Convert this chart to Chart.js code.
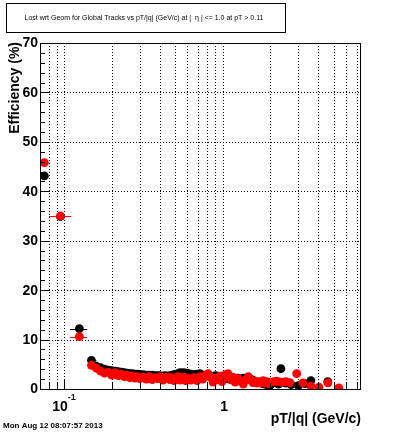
<!DOCTYPE html>
<html>
<head>
<meta charset="utf-8">
<script src="https://cdn.jsdelivr.net/npm/chart.js@4/dist/chart.umd.min.js"></script>
<style>
html,body{margin:0;padding:0;background:#fff;}
canvas{display:block;}
</style>
</head>
<body>
<canvas id="c" width="400" height="433"></canvas>
<script>
// ---- data ----
const lowPt    = [0.0752, 0.095, 0.125, 0.149];
const lowPtLo  = [0.0706, 0.081, 0.109, 0.140];
const lowPtHi  = [0.080, 0.111, 0.140, 0.160];
const lowBlack = [43.1, 34.9, 12.2, 5.8];
const lowRed   = [45.8, 35.0, 10.6, 4.8];

const midPt = [0.16,0.17,0.18,0.19,0.20,0.21,0.22,0.23,0.24,0.25,0.26,0.27,0.28,0.29,0.30,
               0.315,0.33,0.345,0.36,0.375,0.39,0.405,0.42,0.435,0.45,0.465,0.48,0.495,0.51,0.525,0.54,0.555,0.57,0.585,0.60,
               0.63,0.66,0.69,0.72,0.75,0.78,0.81,0.84,0.87,0.90,0.93,0.96,0.99,1.02,1.05,1.08,1.11,1.14,1.17,1.20,
               1.25,1.30,1.35,1.40,1.45,1.50,1.55,1.60,1.65,1.70,1.75,1.80,1.85,1.90,1.95,2.00];
const midBlack = [4.6,4.3,4.0,3.8,3.7,3.6,3.5,3.4,3.3,3.2,3.1,3.1,3.0,3.0,2.9,
                  2.9,2.8,2.8,2.8,2.7,2.7,2.7,2.6,2.7,2.6,2.7,2.8,2.9,3.0,3.1,3.3,3.2,3.3,3.1,3.2,
                  3.0,2.9,3.0,3.1,2.8,2.7,2.6,2.5,2.4,2.7,2.6,2.5,2.6,2.4,2.3,2.1,2.0,2.2,2.3,2.0,
                  2.2,2.0,2.2,2.1,2.3,2.0,1.8,1.5,1.4,1.3,1.2,1.1,1.0,0.9,1.0,0.8];
const midRed   = [4.2,3.6,3.2,3.4,2.8,3.3,2.7,3.0,2.5,2.8,2.3,2.6,2.2,2.5,2.1,
                  2.4,2.0,2.5,1.9,2.3,2.1,2.5,1.8,2.2,2.4,1.9,2.3,1.7,2.2,2.5,1.8,2.1,2.4,1.7,2.2,
                  1.8,2.3,1.7,2.5,2.0,2.8,3.1,2.4,1.4,2.2,1.9,2.6,1.5,2.2,2.9,3.1,2.6,1.8,2.3,1.4,
                  2.1,1.6,1.0,1.9,2.5,1.8,1.3,1.6,1.2,1.5,1.3,1.7,1.2,1.5,1.1,1.4];

const tailBlackPt = [2.12, 2.25, 2.33, 2.5, 2.7, 3.0, 3.3, 3.6, 4.6];
const tailBlack   = [1.3, 1.0, 4.1, 1.2, 0.9, 0.7, 1.1, 1.7, 1.5];
const tailRedPt   = [2.1, 2.2, 2.35, 2.5, 2.65, 2.93, 3.2, 3.6, 4.05, 4.61, 5.4];
const tailRed     = [1.5, 1.6, 1.4, 1.5, 1.3, 3.1, 1.25, 0.57, 0.37, 1.25, 0.24];

const xTicks  = [0.08,0.09,0.1,0.2,0.3,0.4,0.5,0.6,0.7,0.8,0.9,1,2,3,4,5,6,7];
const xMajor  = [0.1, 1];
const yTicks  = [0,10,20,30,40,50,60,70];
const yGrid   = [10,20,30,40,50,60];

const titleText = "Lost wrt Geom for Global Tracks vs pT/|q| (GeV/c) at |  \u03b7 | <= 1.0 at pT > 0.11";
const xTitle = "pT/|q| (GeV/c)";
const yTitle = "Efficiency (%)";
const dateText = "Mon Aug 12 08:07:57 2013";

// ---- build datasets ----
function pts(xs, ys){ return xs.map((x,i)=>({x:x, y:ys[i]})); }
const blackData = pts(lowPt, lowBlack).concat(pts(midPt, midBlack), pts(tailBlackPt, tailBlack));
const redData   = pts(lowPt, lowRed).concat(pts(midPt, midRed), pts(tailRedPt, tailRed));

const FONT = '"Liberation Sans", Arial, Helvetica, sans-serif';

const decor = {
  id: 'decor',
  beforeDatasetsDraw(chart){
    const {ctx, chartArea:a, scales:{x, y}} = chart;
    ctx.save();
    ctx.strokeStyle = '#000';
    ctx.lineWidth = 1;
    ctx.setLineDash([1,2]);
    xTicks.forEach(v=>{
      const px = Math.round(x.getPixelForValue(v)) + 0.5;
      ctx.beginPath(); ctx.moveTo(px, a.top); ctx.lineTo(px, a.bottom); ctx.stroke();
    });
    yGrid.forEach(v=>{
      const py = Math.round(y.getPixelForValue(v)) + 0.5;
      ctx.beginPath(); ctx.moveTo(a.left, py); ctx.lineTo(a.right, py); ctx.stroke();
    });
    ctx.setLineDash([]);
    const drawErr = (vals, color) => {
      ctx.strokeStyle = color; ctx.lineWidth = 1;
      lowPt.forEach((p,i)=>{
        const py = Math.round(y.getPixelForValue(vals[i])) + 0.5;
        ctx.beginPath();
        ctx.moveTo(x.getPixelForValue(lowPtLo[i]), py);
        ctx.lineTo(x.getPixelForValue(lowPtHi[i]), py);
        ctx.stroke();
      });
    };
    drawErr(lowBlack, '#000');
    drawErr(lowRed, '#ff0000');
    ctx.restore();
  },
  afterDatasetsDraw(chart){
    const {ctx, chartArea:a, scales:{x, y}} = chart;
    ctx.save();
    ctx.strokeStyle = '#000';
    ctx.lineWidth = 1;
    ctx.setLineDash([]);
    ctx.strokeRect(Math.round(a.left)+0.5, Math.round(a.top)+0.5,
                   Math.round(a.right-a.left), Math.round(a.bottom-a.top));
    for (let v = 0; v <= 70; v += 2) {
      const py = Math.round(y.getPixelForValue(v)) + 0.5;
      const len = (v % 10 === 0) ? 9 : 5;
      ctx.beginPath(); ctx.moveTo(a.left, py); ctx.lineTo(a.left+len, py); ctx.stroke();
    }
    xTicks.forEach(v=>{
      const px = Math.round(x.getPixelForValue(v)) + 0.5;
      const len = xMajor.includes(v) ? 10 : 6;
      ctx.beginPath(); ctx.moveTo(px, a.bottom); ctx.lineTo(px, a.bottom-len); ctx.stroke();
    });
    ctx.fillStyle = '#000';
    ctx.font = 'bold 14px ' + FONT;
    ctx.textAlign = 'right';
    ctx.textBaseline = 'middle';
    yTicks.forEach(v=>{
      ctx.fillText(String(v), a.left - 2, y.getPixelForValue(v) + 0.5);
    });
    ctx.textBaseline = 'alphabetic';
    const p1 = x.getPixelForValue(0.1);
    ctx.font = 'bold 14px ' + FONT;
    const w10 = ctx.measureText('10').width;
    ctx.font = 'bold 9px ' + FONT;
    const wsup = ctx.measureText('-1').width;
    const start = p1 - (w10 + wsup)/2;
    ctx.textAlign = 'left';
    ctx.font = 'bold 14px ' + FONT;
    ctx.fillText('10', start, 411);
    ctx.font = 'bold 9px ' + FONT;
    ctx.fillText('-1', start + w10, 399.5);
    ctx.font = 'bold 14px ' + FONT;
    ctx.textAlign = 'center';
    ctx.fillText('1', x.getPixelForValue(1) + 1.5, 411);
    ctx.textAlign = 'right';
    ctx.fillText(xTitle, 361, 423);
    ctx.save();
    ctx.translate(19, 42);
    ctx.rotate(-Math.PI/2);
    ctx.textAlign = 'right';
    ctx.fillText(yTitle, 0, 0);
    ctx.restore();
    ctx.fillStyle = '#fff';
    ctx.fillRect(6, 3, 280, 30);
    ctx.strokeRect(6.5, 3.5, 279, 29);
    ctx.fillStyle = '#000';
    ctx.font = '7px ' + FONT;
    ctx.textAlign = 'center';
    ctx.textBaseline = 'middle';
    ctx.fillText(titleText, 144, 18);
    ctx.font = 'bold 8px ' + FONT;
    ctx.textAlign = 'left';
    ctx.textBaseline = 'alphabetic';
    ctx.fillText(dateText, 3, 428);
    ctx.restore();
  }
};

new Chart(document.getElementById('c'), {
  type: 'scatter',
  data: {
    datasets: [
      { label: 'red', data: redData, backgroundColor: '#ff0000', borderColor: '#ff0000',
        pointRadius: 4.4, pointBorderWidth: 0, pointHoverRadius: 4.4, order: 0 },
      { label: 'black', data: blackData, backgroundColor: '#000000', borderColor: '#000000',
        pointRadius: 4.4, pointBorderWidth: 0, pointHoverRadius: 4.4, order: 1 }
    ]
  },
  options: {
    responsive: false,
    animation: false,
    events: [],
    layout: { padding: { left: 40, right: 40, top: 43, bottom: 44 } },
    plugins: { legend: { display: false }, tooltip: { enabled: false } },
    scales: {
      x: { type: 'logarithmic', min: 0.0706, max: 7.34, display: false },
      y: { type: 'linear', min: 0, max: 70, display: false }
    }
  },
  plugins: [decor]
});
</script>
</body>
</html>
